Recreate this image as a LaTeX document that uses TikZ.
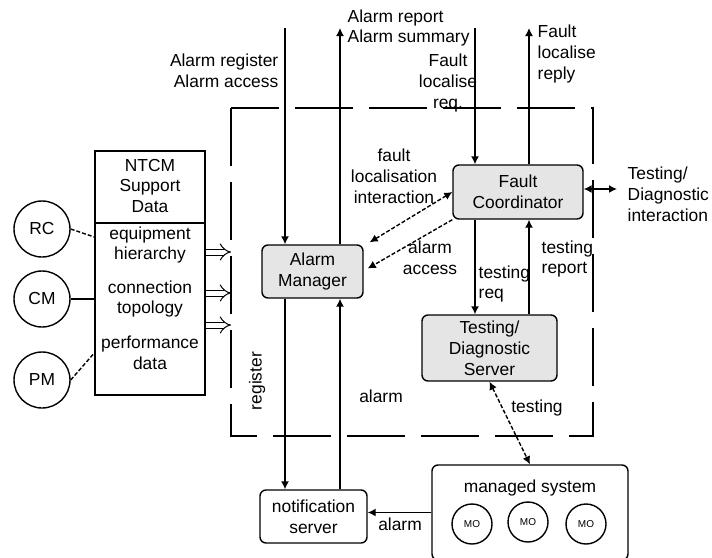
\documentclass[tikz,border=0pt]{standalone}
\usepackage{fontspec}
\setmainfont{Liberation Sans}
\usetikzlibrary{arrows.meta}
\begin{document}
\begin{tikzpicture}[x=0.5pt,y=-0.5pt,
  font=\fontsize{8.7}{10.4}\selectfont,
  line width=0.7pt,
  >={Latex[length=4pt,width=4pt]},
  box/.style={draw,rounded corners=3pt,align=center,inner sep=0pt},
  obj/.style={box,fill=gray!20},
  src/.style={draw,circle,minimum size=28pt,inner sep=0pt},
  mo/.style={draw,circle,minimum size=20pt,inner sep=0pt,font=\fontsize{5}{6}\selectfont},
  lbl/.style={align=center,inner sep=0pt},
  feed/.style={double,double distance=2.5pt,line width=0.5pt,-{Implies}},
  ddash/.style={dash pattern=on 2pt off 1pt}]
\useasboundingbox (0,0) rectangle (712,557);

% domain boundary
\coordinate (frnw) at (231,108);
\coordinate (frse) at (593,436);
\draw[dash pattern=on 29pt off 8pt] (frnw) rectangle (frse);

% support data
\node[draw,minimum width=55pt,minimum height=122pt,inner sep=0pt] (ntcm) at (150,273) {};
\draw (ntcm.west |- 0,223) -- (ntcm.east |- 0,223);
\node[lbl] (ntcmhd) at (150,186) {NTCM\\Support\\Data};
\node[lbl] (equip) at (150,245) {equipment\\hierarchy};
\node[lbl] (conn) at (150,299) {connection\\topology};
\node[lbl] (perf) at (150,353) {performance\\data};

\node[src] (rc) at (42,229) {RC};
\node[src] (cm) at (42,299) {CM};
\node[src] (pm) at (42,380) {PM};
\draw[ddash] (rc.east) -- (ntcm.west |- 0,237);
\draw (cm.east) -- (ntcm.west |- cm.east);
\draw[ddash] (pm.east) -- (ntcm.west |- 0,353);

\draw[feed] (ntcm.east |- 0,252) -- (frnw |- 0,252);
\draw[feed] (ntcm.east |- 0,293) -- (frnw |- 0,293);
\draw[feed] (ntcm.east |- 0,325) -- (frnw |- 0,325);

% managers
\node[obj,minimum width=50.5pt,minimum height=26.5pt] (am) at (312.5,271.5) {Alarm\\Manager};
\node[obj,minimum width=65pt,minimum height=27pt] (fc) at (518,192) {Fault\\Coordinator};
\node[obj,minimum width=67.5pt,minimum height=33pt] (tds) at (489.5,348) {Testing/\\Diagnostic\\Server};
\node[box,minimum width=53.5pt,minimum height=26.5pt] (ns) at (313.5,516.5) {notification\\server};
\node[box,minimum width=98pt,minimum height=47.5pt] (ms) at (530,512.5) {};
\node[lbl] (mslbl) at (530,488) {managed system};
\node[mo] (mo1) at (472,524) {MO};
\node[mo] (mo2) at (528,522) {MO};
\node[mo] (mo3) at (586,524) {MO};

% external interfaces
\coordinate (arin) at (285,28);
\coordinate (arout) at (340,28);
\coordinate (flreq) at (475,28);
\coordinate (flrep) at (529,28);
\coordinate (tdi) at (617,189);

\draw[->] (arin) -- (arin |- am.north);
\draw[->] (arout |- am.north) -- (arout);
\draw[->] (flreq) -- (flreq |- fc.north);
\draw[->] (flrep |- fc.north) -- (flrep);
\draw[<->] (fc.east |- tdi) -- (tdi);

\node[lbl,anchor=east,align=right] (arinlbl) at (279,71) {Alarm register\\Alarm access};
\node[lbl,anchor=west,align=left] (aroutlbl) at (347,28) {Alarm report\\Alarm summary};
\node[lbl] (flreqlbl) at (448,83) {Fault\\localise\\req.};
\node[lbl,anchor=west,align=left] (fleplbl) at (537,54) {Fault\\localise\\reply};
\node[lbl,anchor=west,align=left] (tdilbl) at (627,194) {Testing/\\Diagnostic\\interaction};

% internal interactions
\draw[<->,ddash] (fc.west) -- ([shift={(6,-2)}]am.north east);
\draw[->,ddash] (fc.south west) -- ([shift={(4,-3)}]am.east);
\node[lbl] (fllbl) at (394,176) {fault\\localisation\\interaction};
\node[lbl] (aalbl) at (430,258) {alarm\\access};

\draw[->] (fc.south -| flreq) -- (tds.north -| flreq);
\draw[->] (tds.north -| flrep) -- (fc.south -| flrep);
\node[lbl,anchor=west,align=left] (treqlbl) at (478,284) {testing\\req};
\node[lbl,anchor=west,align=left] (trplbl) at (541,259) {testing\\report};

\draw[<->,ddash] (tds.south) -- (ms.north);
\node[lbl] (tstlbl) at (537,408) {testing};

\draw[->] (am.south -| arin) -- (ns.north -| arin);
\draw[->] (ns.north -| arout) -- (am.south -| arout);
\node[lbl,rotate=90] (reglbl) at (257,381) {register};
\node[lbl] (allbl) at (381,396) {alarm};

\draw[->] (ms.west) -- (ms.west -| ns.east);
\node[lbl] (msalbl) at (400,524) {alarm};
\end{tikzpicture}
\end{document}
